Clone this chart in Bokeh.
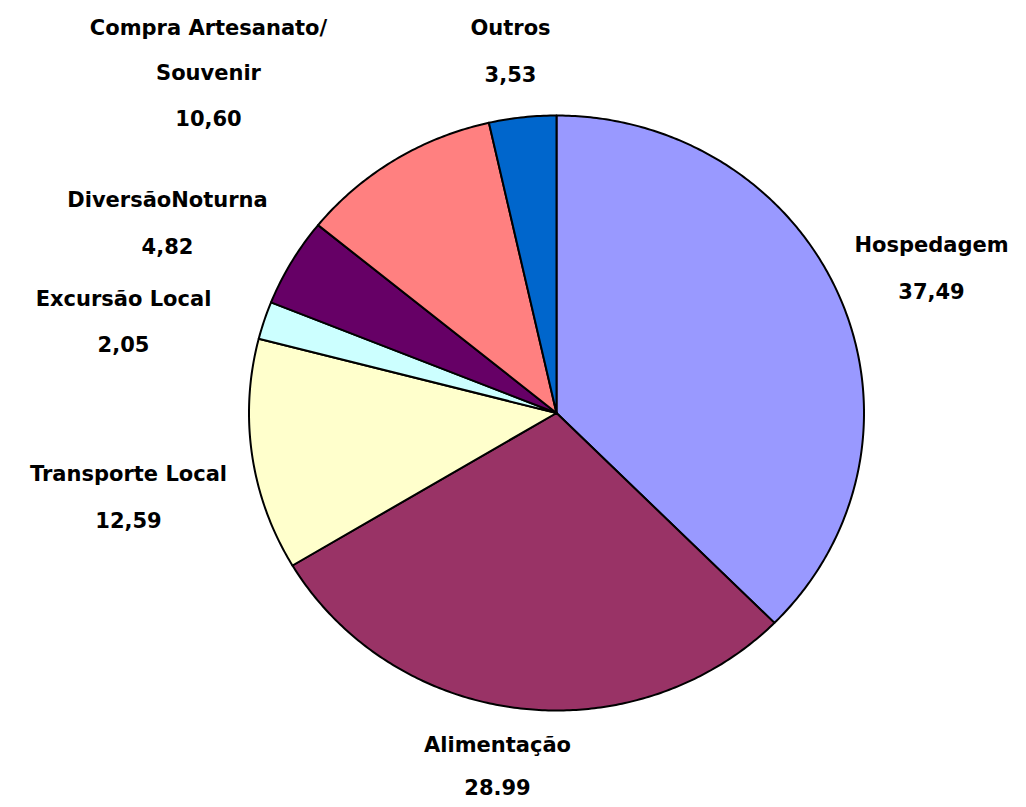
import numpy as np
from bokeh.plotting import figure
from bokeh.models import Range1d, ColumnDataSource
from bokeh.core.properties import value
from bokeh.embed import file_html
from bokeh.resources import INLINE

# ---- data ----
categories = ["Hospedagem", "Alimentação", "Transporte Local", "Excursão Local",
              "DiversãoNoturna", "Compra Artesanato/\nSouvenir", "Outros"]
values = [37.49, 28.99, 12.59, 2.05, 4.82, 10.60, 3.53]
value_labels = ["37,49", "28.99", "12,59", "2,05", "4,82", "10,60", "3,53"]
colors = ["#9999FF", "#993366", "#FFFFCC", "#CCFFFF", "#660066", "#FF8080", "#0066CC"]

# ---- layout (screen-like coordinates, y measured up from bottom) ----
W, H = 1010, 799
cx, cy = 556, H - 412.5
rx, ry = 307.5, 297.5
label_pos = [  # (x, y of first line, line gap) per category
    (931, H - 244, 46),
    (497, H - 744, 42),
    (128, H - 473, 46),
    (123, H - 298, 45),
    (167, H - 199, 46),
    (208, H - 27, 45),
    (510, H - 27, 46),
]

p = figure(width=W, height=H, x_range=Range1d(0, W), y_range=Range1d(0, H),
           output_backend="svg", toolbar_location=None, min_border=0)
p.axis.visible = False
p.grid.visible = False
p.outline_line_color = None
p.background_fill_color = "white"

vals = np.array(values, dtype=float)
frac = vals / vals.sum()
ends = np.cumsum(frac)
starts = ends - frac
xs, ys = [], []
for s, e in zip(starts, ends):
    a0 = np.pi / 2 - 2 * np.pi * s
    a1 = np.pi / 2 - 2 * np.pi * e
    n = max(int(abs(a1 - a0) / 0.01), 4)
    t = np.linspace(a0, a1, n)
    xs.append([cx] + list(cx + rx * np.cos(t)) + [cx])
    ys.append([cy] + list(cy + ry * np.sin(t)) + [cy])

src = ColumnDataSource(dict(xs=xs, ys=ys, color=colors))
p.patches("xs", "ys", source=src, fill_color="color", line_color="black",
          line_width=2, line_join="round")

tx, ty, tt = [], [], []
for cat, vl, (lx, ly, gap) in zip(categories, value_labels, label_pos):
    lines = cat.split("\n") + [vl]
    for i, ln in enumerate(lines):
        tx.append(lx)
        ty.append(ly - i * gap)
        tt.append(ln)

p.text(x=tx, y=ty, text=tt, text_align="center", text_baseline="middle",
       text_font=value("DejaVu Sans"), text_font_style="bold",
       text_font_size="21px", text_color="black")

open("out.html", "w").write(file_html(p, INLINE))
